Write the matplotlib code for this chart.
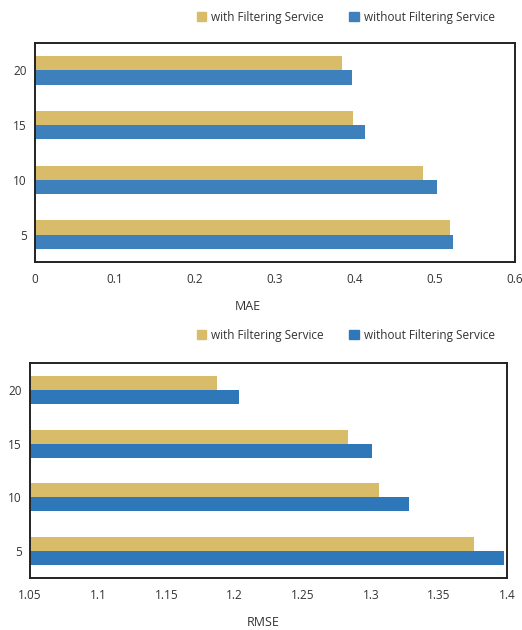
import matplotlib
matplotlib.use("Agg")
import numpy as np
import matplotlib.pyplot as plt
from matplotlib.patches import Patch

# Data
categories = ["5", "10", "15", "20"]
mae_with    = [0.519, 0.485, 0.398, 0.384]
mae_without = [0.523, 0.502, 0.412, 0.396]
rmse_with    = [1.376, 1.306, 1.283, 1.187]
rmse_without = [1.398, 1.328, 1.301, 1.203]
mae_ticks  = [0, 0.1, 0.2, 0.3, 0.4, 0.5, 0.6]
mae_tick_labels = ["0", "0.1", "0.2", "0.3", "0.4", "0.5", "0.6"]
rmse_ticks = [1.05, 1.1, 1.15, 1.2, 1.25, 1.3, 1.35, 1.4]
rmse_tick_labels = ["1.05", "1.1", "1.15", "1.2", "1.25", "1.3", "1.35", "1.4"]

YELLOW = "#D8BC6A"
BLUE_TOP = "#3E80BC"
BLUE_BOT = "#2E78BA"
TEXT = "#333333"

plt.rcParams["font.family"] = ["Open Sans", "DejaVu Sans"]
plt.rcParams["font.size"] = 8.5

fig = plt.figure(figsize=(5.22, 6.3), dpi=100)
ax1 = fig.add_axes([0.067, 0.5841, 0.9195, 0.3476])
ax2 = fig.add_axes([0.0575, 0.0821, 0.9138, 0.3422])

y = np.arange(len(categories))
h = 0.26


def draw(ax, with_vals, without_vals, blue, xmin, xmax, ticks, tick_labels):
    # bars start at the left edge of the axis (xmin)
    ax.barh(y + h / 2, [v - xmin for v in with_vals], height=h, color=YELLOW, left=xmin)
    ax.barh(y - h / 2, [v - xmin for v in without_vals], height=h, color=blue, left=xmin)
    ax.set_xlim(xmin, xmax)
    ax.set_ylim(-0.5, 3.5)
    ax.set_yticks(y)
    ax.set_yticklabels(categories)
    ax.set_xticks(ticks)
    ax.set_xticklabels(tick_labels)
    ax.tick_params(length=0, colors=TEXT, labelsize=8.5)
    ax.tick_params(axis="x", pad=8)
    ax.tick_params(axis="y", pad=6)
    for s in ax.spines.values():
        s.set_color("#222222")
        s.set_linewidth(1.4)


draw(ax1, mae_with, mae_without, BLUE_TOP, 0, 0.6, mae_ticks, mae_tick_labels)
draw(ax2, rmse_with, rmse_without, BLUE_BOT, 1.05, 1.4, rmse_ticks, rmse_tick_labels)

for blue, ypos in [(BLUE_TOP, 1 - 17 / 630), (BLUE_BOT, 1 - 335 / 630)]:
    hd = [Patch(color=YELLOW, label="with Filtering Service"),
          Patch(color=blue, label="without Filtering Service")]
    fig.legend(handles=hd, loc="center left", bbox_to_anchor=(186 / 522, ypos),
               ncol=2, frameon=False, handlelength=0.8, handleheight=0.8,
               handletextpad=0.4, columnspacing=2.2, fontsize=8.5,
               labelcolor=TEXT)

fig.text(248 / 522, 1 - 306 / 630, "MAE", ha="center", va="center", color=TEXT, fontsize=9)
fig.text(263 / 522, 1 - 622 / 630, "RMSE", ha="center", va="center", color=TEXT, fontsize=9)

fig.savefig("out.png", dpi=100)
